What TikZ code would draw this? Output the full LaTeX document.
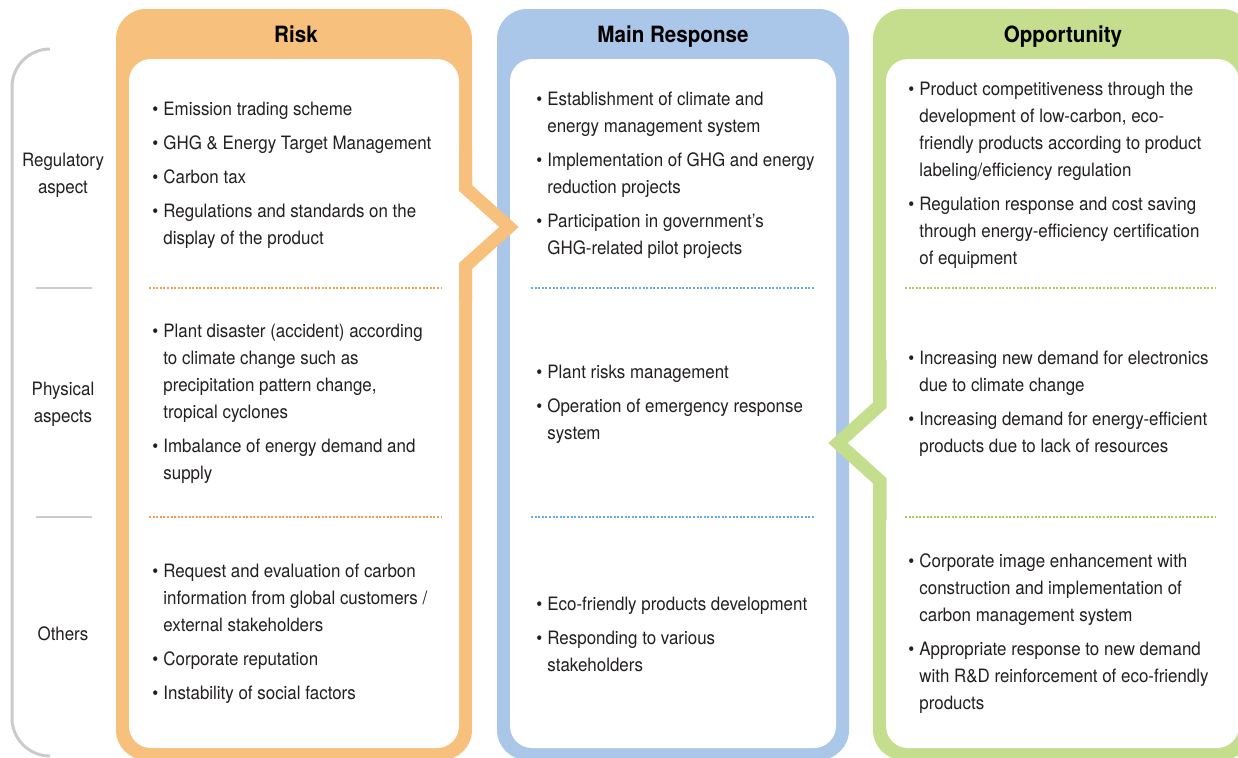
\documentclass[tikz,border=0pt]{standalone}
\usepackage{fontspec}
\setmainfont{TeX Gyre Heros}[FakeStretch=0.92]
\usetikzlibrary{positioning}

\definecolor{riskorange}{HTML}{F8C07D}
\definecolor{respblue}{HTML}{AAC6E8}
\definecolor{oppgreen}{HTML}{C4DE8E}
\definecolor{riskdot}{HTML}{F2A04E}
\definecolor{respdot}{HTML}{62AEE4}
\definecolor{oppdot}{HTML}{A6CC5E}
\definecolor{bracketgray}{HTML}{CBCBCB}
\definecolor{textgray}{HTML}{231F20}

% bullet hanging to the left of the text
\newcommand{\bl}{\noindent\llap{\textbullet\hspace{2.5pt}}}

\begin{document}
\begin{tikzpicture}[
x=0.5pt, y=-0.5pt,
every node/.style={text=textgray, font=\fontsize{9.2}{13.5}\selectfont},
head/.style={font=\fontsize{11.2}{13}\selectfont\bfseries, text=black, anchor=base},
rowlabel/.style={align=center, inner sep=0pt},
txt/.style={align=left, anchor=west, inner sep=0pt},
sep/.style={dash pattern=on 1pt off 0.8pt, line width=0.6pt},
band/.style={line width=6.5pt, line join=miter, miter limit=10}
]
\useasboundingbox (0,0) rectangle (1238,757);
\clip (0,0) rectangle (1238,757);

% bracket of the row labels
\draw[bracketgray, line width=1.5pt, rounded corners=19pt]
  (50,49) -- (12,49) -- (12,756) -- (50,756);
\draw[bracketgray, line width=0.8pt] (36,288) -- (92,288);
\draw[bracketgray, line width=0.8pt] (36,517) -- (92,517);

% the three panels
\foreach \xa/\xb/\col in {116/472/riskorange, 497/849/respblue, 873/1252/oppgreen} {
  \fill[\col, rounded corners=15pt] (\xa,9) rectangle (\xb,760);
  \fill[white, rounded corners=11pt] (\xa+13,59) rectangle (\xb-13,748);
}

% notches in the panel borders
\fill[white] (450,188) -- (465.5,188) -- (509,227) -- (465.5,266) -- (450,266) -- cycle;
\fill[white] (895,405) -- (880,405) -- (838,443) -- (880,481) -- (895,481) -- cycle;
\draw[riskorange, band] (465.5,150) -- (465.5,188) -- (509,227) -- (465.5,266) -- (465.5,300);
\draw[oppgreen, band] (880,360) -- (880,405) -- (838,443) -- (880,481) -- (880,520);

% dotted row separators
\foreach \y in {288,517} {
  \draw[riskdot, sep] (149,\y) -- (441,\y);
  \draw[respdot, sep] (531,\y) -- (815,\y);
  \draw[oppdot, sep] (905,\y) -- (1216,\y);
}

% headers
\node[head] (risk) at (296,42) {Risk};
\node[head] (resp) at (673,42) {Main Response};
\node[head] (opp) at (1063,42) {Opportunity};

% row labels
\node[rowlabel] (regulatory) at (63,175) {Regulatory\\aspect};
\node[rowlabel] (physical) at (63,404) {Physical\\aspects};
\node[rowlabel] (others) at (63,634) {Others};

% risk column
\node[txt] (riskreg) at (163,175) {\bl Emission trading scheme\\[3.5pt]
\bl GHG \& Energy Target Management\\[3.5pt]
\bl Carbon tax\\[3.5pt]
\bl Regulations and standards on the\\display of the product};
\node[txt] (riskphy) at (163,404) {\bl Plant disaster (accident) according\\to climate change such as\\precipitation pattern change,\\tropical cyclones\\[3.5pt]
\bl Imbalance of energy demand and\\supply};
\node[txt] (riskoth) at (163,634) {\bl Request and evaluation of carbon\\information from global customers /\\external stakeholders\\[3.5pt]
\bl Corporate reputation\\[3.5pt]
\bl Instability of social factors};

% main response column
\node[txt] (respreg) at (547,175) {\bl Establishment of climate and\\energy management system\\[3.5pt]
\bl Implementation of GHG and energy\\reduction projects\\[3.5pt]
\bl Participation in government’s\\GHG-related pilot projects};
\node[txt] (respphy) at (547,404) {\bl Plant risks management\\[3.5pt]
\bl Operation of emergency response\\system};
\node[txt] (respoth) at (547,634) {\bl Eco-friendly products development\\[3.5pt]
\bl Responding to various\\stakeholders};

% opportunity column
\node[txt] (oppreg) at (919,175) {\bl Product competitiveness through the\\development of low-carbon, eco-\\friendly products according to product\\labeling/efficiency regulation\\[3.5pt]
\bl Regulation response and cost saving\\through energy-efficiency certification\\of equipment};
\node[txt] (oppphy) at (919,404) {\bl Increasing new demand for electronics\\due to climate change\\[3.5pt]
\bl Increasing demand for energy-efficient\\products due to lack of resources};
\node[txt] (oppoth) at (919,634) {\bl Corporate image enhancement with\\construction and implementation of\\carbon management system\\[3.5pt]
\bl Appropriate response to new demand\\with R\&D reinforcement of eco-friendly\\products};

\end{tikzpicture}
\end{document}
